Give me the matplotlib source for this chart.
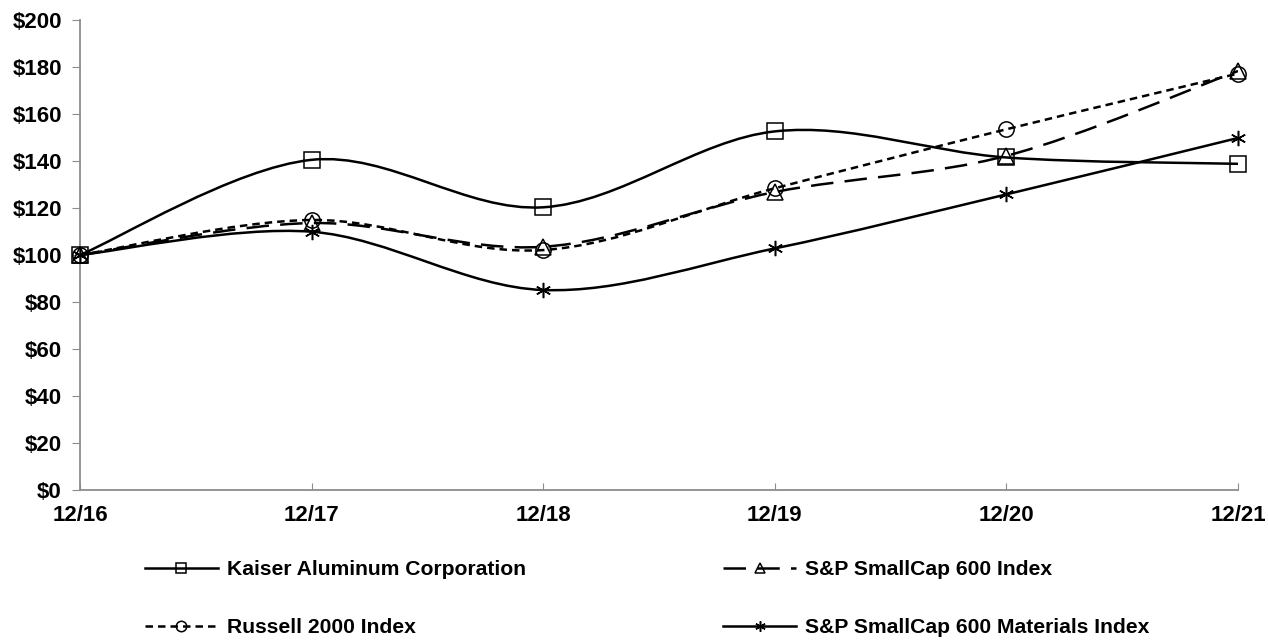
import matplotlib
matplotlib.use("Agg")
import matplotlib.pyplot as plt
from matplotlib.path import Path
from matplotlib.patches import PathPatch
from matplotlib.lines import Line2D
import numpy as np

plt.rcParams['font.family'] = ['Liberation Sans', 'DejaVu Sans']
plt.rcParams['font.weight'] = 'bold'

periods = ["12/16", "12/17", "12/18", "12/19", "12/20", "12/21"]

kaiser = [100, 140.5, 120.3, 152.6, 141.5, 138.8]
smallcap600 = [100, 113.6, 103.5, 126.8, 142.2, 178.3]
russell2000 = [100, 114.9, 102.1, 128.4, 153.5, 177.2]
materials = [100, 109.9, 85.1, 102.8, 125.8, 149.8]

names = [
    "Kaiser Aluminum Corporation",
    "Russell 2000 Index",
    "S&P SmallCap 600 Index",
    "S&P SmallCap 600 Materials Index",
]
series = [kaiser, russell2000, smallcap600, materials]
markers = ["s", "o", "^", (6, 2, 0)]
dashes = [None, (3, 2), (9, 4.5), None]


def smooth_path(x, y):
    # excel style smoothed line: bezier with catmull-rom control points
    pts = np.column_stack([x, y]).astype(float)
    n = len(pts)
    verts = [pts[0]]
    codes = [Path.MOVETO]
    for i in range(n - 1):
        p0 = pts[i - 1] if i > 0 else pts[i]
        p1 = pts[i]
        p2 = pts[i + 1]
        p3 = pts[i + 2] if i + 2 < n else pts[i + 1]
        c1 = p1 + (p2 - p0) / 6.0
        c2 = p2 - (p3 - p1) / 6.0
        verts += [c1, c2, p2]
        codes += [Path.CURVE4] * 3
    return Path(verts, codes)


fig = plt.figure(figsize=(12.68, 6.41), dpi=100)
ax = fig.add_axes([80 / 1268, 151 / 641, 1158 / 1268, 470 / 641])

x = np.arange(len(periods))
handles = []
for vals, name, mk, ds in zip(series, names, markers, dashes):
    ls = "-" if ds is None else (0, ds)
    patch = PathPatch(smooth_path(x, vals), facecolor="none", edgecolor="black",
                      lw=1.8, linestyle=ls, zorder=2)
    ax.add_patch(patch)
    ax.plot(x, vals, linestyle="none", marker=mk, markersize=11,
            markerfacecolor="none", markeredgecolor="black",
            markeredgewidth=1.1, zorder=3, clip_on=False)
    handles.append(Line2D([], [], color="black", lw=1.8, linestyle=ls,
                          marker=mk, markersize=7.5, markerfacecolor="none",
                          markeredgecolor="black", markeredgewidth=1.1,
                          label=name))

ax.set_xlim(0, len(periods) - 1)
ax.set_ylim(0, 200)
ax.set_xticks(x)
ax.set_xticklabels(periods)
ax.set_yticks(np.arange(0, 201, 20))
ax.set_yticklabels([f"${v}" for v in range(0, 201, 20)])

for s in ["top", "right"]:
    ax.spines[s].set_visible(False)
for s in ["left", "bottom"]:
    ax.spines[s].set_color("#8c8c8c")
    ax.spines[s].set_linewidth(1.3)

ax.tick_params(axis="y", direction="out", length=6, color="#8c8c8c",
               labelsize=16, pad=7)
ax.tick_params(axis="x", direction="in", length=5, color="#8c8c8c",
               labelsize=16, pad=11)
for lbl in ax.get_xticklabels() + ax.get_yticklabels():
    lbl.set_fontweight("bold")

fig.legend(handles=handles, ncol=2, loc="upper left",
           bbox_to_anchor=(145 / 1268, 1 - 560 / 641), frameon=False,
           handlelength=3.45, handletextpad=0.43, borderaxespad=0,
           columnspacing=9.35, labelspacing=1.85, borderpad=0,
           prop={"weight": "bold", "size": 15.2})

fig.savefig("out.png", dpi=100)
